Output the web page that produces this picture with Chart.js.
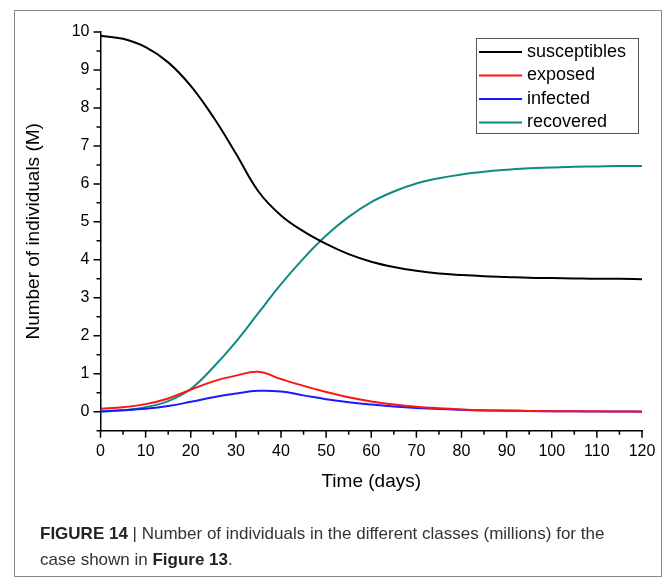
<!DOCTYPE html>
<html>
<head>
<meta charset="utf-8">
<script src="https://cdn.jsdelivr.net/npm/chart.js@4/dist/chart.umd.min.js"></script>
<style>
  html, body { margin: 0; padding: 0; background: #fff; }
  #wrap { position: relative; width: 670px; height: 581px; overflow: hidden; }
  #c { position: absolute; left: 0; top: 0; }
  #frame { position: absolute; left: 14px; top: 10px; width: 648px; height: 567px; border: 1px solid #8a8a8a; box-sizing: border-box; pointer-events: none; }
  #caption { position: absolute; left: 40px; top: 521px; width: 640px; font-family: "Liberation Sans", Arial, sans-serif; font-size: 17px; line-height: 26px; color: #333; transform-origin: 0 0; }
  #caption b { color: #222; }
</style>
</head>
<body>
<div id="wrap">
  <canvas id="c" width="670" height="581"></canvas>
  <div id="frame"></div>
  <div id="caption"><b>FIGURE 14</b> | Number of individuals in the different classes (millions) for the<br>case shown in <b>Figure 13</b>.</div>
</div>
<script>
// ---- data ----
const days = [0, 5, 10, 15, 20, 25, 30, 35, 40, 45, 50, 55, 60, 65, 70, 75, 80, 85, 90, 95, 100, 105, 110, 115, 120];
const susceptibles = [9.90, 9.82, 9.60, 9.20, 8.58, 7.76, 6.80, 5.80, 5.17, 4.75, 4.42, 4.15, 3.95, 3.81, 3.71, 3.64, 3.60, 3.57, 3.55, 3.53, 3.52, 3.51, 3.50, 3.50, 3.49];
const exposed      = [0.08, 0.12, 0.20, 0.35, 0.58, 0.80, 0.95, 1.05, 0.86, 0.68, 0.52, 0.38, 0.27, 0.19, 0.13, 0.09, 0.06, 0.04, 0.03, 0.02, 0.015, 0.01, 0.01, 0.005, 0.005];
const infected     = [0.01, 0.04, 0.08, 0.15, 0.26, 0.38, 0.48, 0.55, 0.53, 0.43, 0.33, 0.25, 0.19, 0.14, 0.10, 0.07, 0.05, 0.035, 0.025, 0.02, 0.01, 0.01, 0.005, 0.005, 0.0];
const recovered    = [0.00, 0.04, 0.12, 0.28, 0.60, 1.17, 1.84, 2.60, 3.36, 4.04, 4.64, 5.13, 5.52, 5.80, 6.01, 6.15, 6.25, 6.32, 6.37, 6.41, 6.43, 6.45, 6.46, 6.47, 6.47];
const seriesNames  = ["susceptibles", "exposed", "infected", "recovered"];
const seriesColors = ["#000000", "#ff1414", "#1a1aff", "#0f8a84"];
const xTickLabels  = [0, 10, 20, 30, 40, 50, 60, 70, 80, 90, 100, 110, 120];
const yTickLabels  = [0, 1, 2, 3, 4, 5, 6, 7, 8, 9, 10];

const toPts = arr => arr.map((v, i) => ({ x: days[i], y: v }));
const allSeries = [susceptibles, exposed, infected, recovered];

const FONT = '"Liberation Sans", Arial, sans-serif';

// minor/major outward ticks drawn from the scales
const tickPlugin = {
  id: 'ticks',
  afterDraw(chart) {
    const ctx = chart.ctx;
    const xs = chart.scales.x, ys = chart.scales.y;
    ctx.save();
    ctx.strokeStyle = '#000';
    ctx.lineWidth = 1.5;
    ctx.beginPath();
    for (let v = 0; v <= 120; v += 5) {
      const px = xs.getPixelForValue(v);
      const len = (v % 10 === 0) ? 7 : 4;
      ctx.moveTo(px, xs.top);
      ctx.lineTo(px, xs.top + len);
    }
    for (let k = -1; k <= 20; k++) {
      const v = k / 2;
      const py = ys.getPixelForValue(v);
      const len = (k % 2 === 0) ? 7 : 4;
      ctx.moveTo(ys.right, py);
      ctx.lineTo(ys.right - len, py);
    }
    ctx.stroke();
    ctx.restore();
  }
};

// boxed legend inside the plot
const legendPlugin = {
  id: 'boxLegend',
  afterDraw(chart) {
    const ctx = chart.ctx;
    const a = chart.chartArea;
    const right = a.right - 4, top = a.top + 6;
    const w = 162, h = 95, left = right - w;
    ctx.save();
    ctx.strokeStyle = '#555';
    ctx.lineWidth = 1;
    ctx.strokeRect(left + 0.5, top + 0.5, w, h);
    ctx.font = '18px ' + FONT;
    ctx.textBaseline = 'middle';
    ctx.fillStyle = '#000';
    chart.data.datasets.forEach((ds, i) => {
      const y = top + 14 + i * 23.5;
      ctx.strokeStyle = ds.borderColor;
      ctx.lineWidth = 2;
      ctx.beginPath();
      ctx.moveTo(left + 3, y);
      ctx.lineTo(left + 46, y);
      ctx.stroke();
      ctx.fillText(ds.label, left + 51, y);
    });
    ctx.restore();
  }
};

new Chart(document.getElementById('c'), {
  type: 'line',
  data: {
    datasets: allSeries.map((arr, i) => ({
      label: seriesNames[i],
      data: toPts(arr),
      borderColor: seriesColors[i],
      backgroundColor: seriesColors[i],
      borderWidth: 2,
      pointRadius: 0,
      fill: false,
      tension: 0.4
    }))
  },
  options: {
    responsive: false,
    animation: false,
    devicePixelRatio: 1,
    layout: { padding: { left: 0, right: 28, top: 32, bottom: 0 } },
    plugins: { legend: { display: false }, tooltip: { enabled: false } },
    scales: {
      x: {
        type: 'linear',
        min: 0, max: 120,
        afterBuildTicks: s => { s.ticks = xTickLabels.map(v => ({ value: v })); },
        afterFit: s => { s.height = 150.3; },
        grid: { display: true, drawOnChartArea: false, drawTicks: false },
        border: { display: true, color: '#000', width: 1.5 },
        ticks: { color: '#000', font: { family: FONT, size: 16 }, padding: 11, maxRotation: 0, autoSkip: false },
        title: { display: true, text: 'Time (days)', color: '#000', font: { family: FONT, size: 19 }, padding: { top: 0, bottom: 88 } }
      },
      y: {
        type: 'linear',
        min: -0.5, max: 10,
        afterBuildTicks: s => { s.ticks = yTickLabels.map(v => ({ value: v })); },
        afterFit: s => { s.width = 100.5; },
        grid: { display: true, drawOnChartArea: false, drawTicks: false },
        border: { display: true, color: '#000', width: 1.5 },
        ticks: { color: '#000', font: { family: FONT, size: 16 }, padding: 11 },
        title: { display: true, text: 'Number of individuals (M)', color: '#000', font: { family: FONT, size: 19 }, padding: { top: 22, bottom: 0 } }
      }
    }
  },
  plugins: [tickPlugin, legendPlugin]
});
</script>
</body>
</html>
